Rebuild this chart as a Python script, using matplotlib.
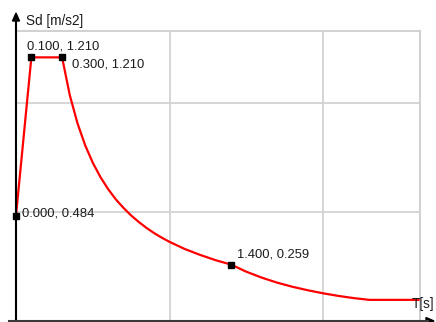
import matplotlib
matplotlib.use("Agg")
import matplotlib.pyplot as plt
from matplotlib.patches import Polygon
from matplotlib.lines import Line2D
from matplotlib.transforms import IdentityTransform

# Design response spectrum Sd(T)
period = [0.0, 0.1, 0.3, 0.35, 0.4, 0.45, 0.5, 0.55, 0.6, 0.65, 0.7, 0.75,
          0.8, 0.85, 0.9, 0.95, 1.0, 1.1, 1.2, 1.3, 1.4,
          1.5, 1.6, 1.7, 1.8, 1.9, 2.0, 2.1, 2.2, 2.3, 2.62]
sd = [0.484, 1.210, 1.210, 1.037, 0.908, 0.807, 0.726, 0.660, 0.605, 0.558,
      0.519, 0.484, 0.454, 0.427, 0.403, 0.382, 0.363, 0.330, 0.303, 0.279,
      0.259, 0.226, 0.199, 0.176, 0.157, 0.141, 0.127, 0.115, 0.105, 0.097,
      0.097]

# Highlighted corner points
key_T = [0.000, 0.100, 0.300, 1.400]
key_sd = [0.484, 1.210, 1.210, 0.259]
label_offsets = [(6, 2), (-4, 11), (10, -7), (6, 10)]

x_label = "T[s]"
y_label = "Sd [m/s2]"

W, H = 436, 322
fig = plt.figure(figsize=(W / 100, H / 100), dpi=100)
fig.patch.set_facecolor("white")

left_px, right_px, bottom_px, top_px = 16, 420, 321, 31
ax = fig.add_axes([left_px / W, (H - bottom_px) / H,
                   (right_px - left_px) / W, (bottom_px - top_px) / H])
ax.set_xlim(0, 2.63)
ax.set_ylim(0, 1.331)
ax.set_xticks([])
ax.set_yticks([])

grid_c = "#d2d2d2"
for xv in [1.0, 2.0]:
    ax.axvline(xv, color=grid_c, lw=1.3, zorder=1)
for yv in [0.5, 1.0]:
    ax.axhline(yv, color=grid_c, lw=1.3, zorder=1)
for s in ["top", "right"]:
    ax.spines[s].set_color(grid_c)
    ax.spines[s].set_linewidth(1.5)
ax.spines["left"].set_visible(False)
ax.spines["bottom"].set_visible(False)

ax.plot(period, sd, color="#ff0000", lw=1.6, zorder=3, solid_joinstyle="round")
ax.plot(key_T, key_sd, ls="none", marker="s", ms=4.5, color="black",
        zorder=4, clip_on=False)

txt_c = "#1c1c1c"
for t, v, (dx, dy) in zip(key_T, key_sd, label_offsets):
    ax.annotate(f"{t:.3f}, {v:.3f}", (t, v), xytext=(dx * 0.72, dy * 0.72),
                textcoords="offset points", ha="left", va="center",
                fontsize=9.4, family="Liberation Sans", color=txt_c, zorder=5)

# Axes with arrow heads, drawn in display pixels (origin bottom-left)
ident = IdentityTransform()
yb = H - bottom_px
fig.add_artist(Line2D([left_px, left_px], [0, H - 20], color="black", lw=1.5,
                      transform=ident))
fig.add_artist(Polygon([[left_px - 3.5, H - 21], [left_px + 3.5, H - 21],
                        [left_px, H - 13]], closed=True, color="black",
                       transform=ident))
fig.add_artist(Line2D([9, 428], [yb, yb], color="#3a3a3a", lw=1.5,
                      transform=ident))
fig.add_artist(Polygon([[426, yb - 3.5], [426, yb + 3.5], [434, yb]],
                       closed=True, color="black", transform=ident))

fig.text(26 / W, (H - 21) / H, y_label, ha="left", va="center", fontsize=9.8,
         family="Liberation Sans", color=txt_c)
fig.text(434 / W, (H - 304) / H, x_label, ha="right", va="center", fontsize=9.8,
         family="Liberation Sans", color=txt_c)

fig.savefig("out.png", dpi=100, facecolor="white")
